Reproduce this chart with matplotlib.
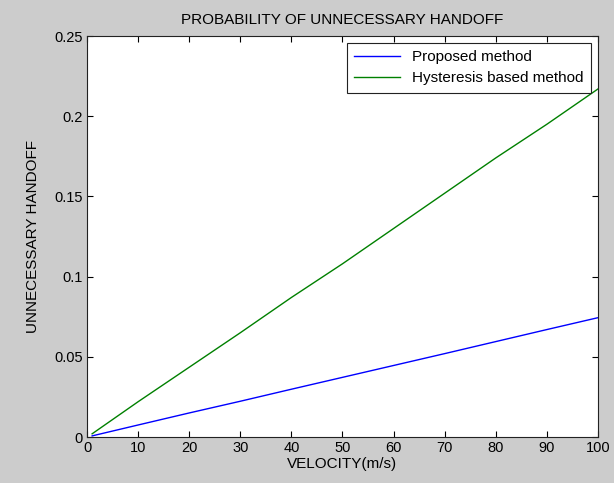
import matplotlib.pyplot as plt

plt.rcParams["font.family"] = ["Liberation Sans", "DejaVu Sans"]

velocity = [1, 10, 20, 30, 40, 50, 60, 70, 80, 90, 100]
proposed = [0.0007, 0.0075, 0.015, 0.0223, 0.0298, 0.0372, 0.0446, 0.052, 0.0595, 0.067, 0.0744]
hysteresis = [0.002, 0.022, 0.0435, 0.065, 0.087, 0.108, 0.130, 0.152, 0.174, 0.195, 0.217]

fig = plt.figure(figsize=(6.14, 4.83), dpi=100, facecolor="#cccccc")
ax = fig.add_axes([0.1417, 0.0952, 0.8322, 0.8302])
ax.set_facecolor("white")

ax.plot(velocity, proposed, color="#0000ff", lw=1, label="Proposed method")
ax.plot(velocity, hysteresis, color="#008000", lw=1, label="Hysteresis based method")

ax.set_xlim(0, 100)
ax.set_ylim(0, 0.25)
ax.set_xticks(range(0, 101, 10))
ax.set_yticks([0, 0.05, 0.1, 0.15, 0.2, 0.25])
ax.set_yticklabels(["0", "0.05", "0.1", "0.15", "0.2", "0.25"])
ax.tick_params(direction="in", top=True, right=True, labelsize=10.5, length=4, pad=3)
for s in ax.spines.values():
    s.set_color("#222222")

ax.set_title("PROBABILITY OF UNNECESSARY HANDOFF", fontsize=11, pad=9)
ax.set_xlabel("VELOCITY(m/s)", fontsize=11, labelpad=1)
ax.set_ylabel("UNNECESSARY HANDOFF", fontsize=11, labelpad=10)

leg = ax.legend(loc="upper right", fontsize=11, fancybox=False, framealpha=1,
                edgecolor="#222222", borderaxespad=0.43, handlelength=3,
                borderpad=0.5, labelspacing=0.45)
leg.get_frame().set_linewidth(0.8)

fig.savefig("out.png", dpi=100, facecolor=fig.get_facecolor())
